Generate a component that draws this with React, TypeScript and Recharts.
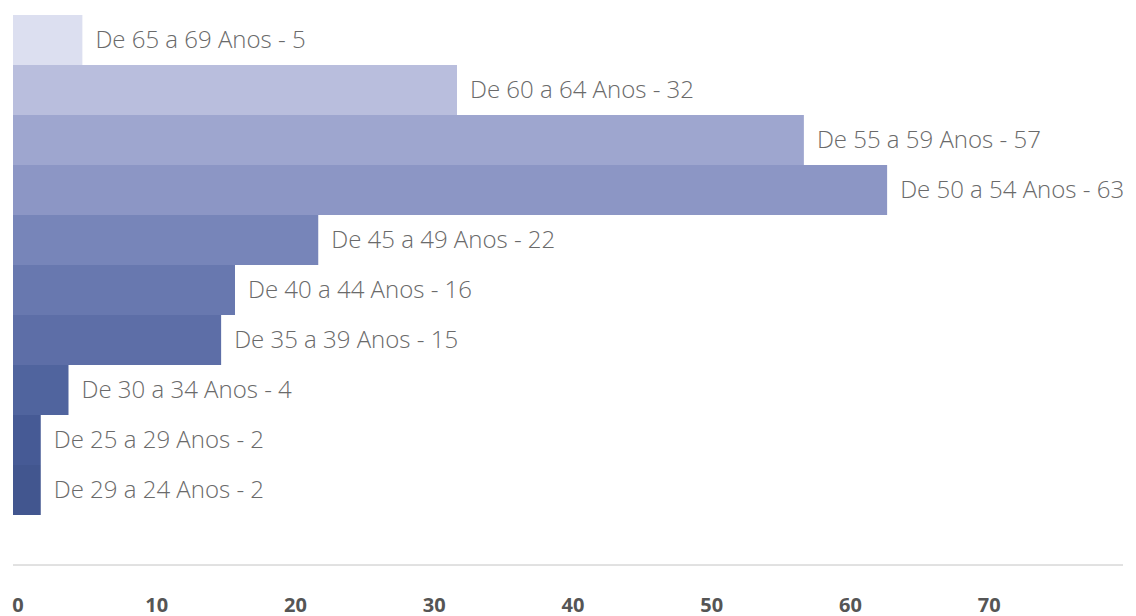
import React from 'react'
import { BarChart, Bar, XAxis, YAxis, Cell, LabelList } from 'recharts'

const faixas = [
  'De 65 a 69 Anos',
  'De 60 a 64 Anos',
  'De 55 a 59 Anos',
  'De 50 a 54 Anos',
  'De 45 a 49 Anos',
  'De 40 a 44 Anos',
  'De 35 a 39 Anos',
  'De 30 a 34 Anos',
  'De 25 a 29 Anos',
  'De 29 a 24 Anos',
]
const quantidade = [5, 32, 57, 63, 22, 16, 15, 4, 2, 2]
const xTicks = [0, 10, 20, 30, 40, 50, 60, 70]

// lighter at the top, darker towards the bottom
const cores = [
  '#dcdff0',
  '#b9bedd',
  '#9ea6cf',
  '#8c96c5',
  '#7785b9',
  '#6878af',
  '#5d6ea7',
  '#50649e',
  '#465a95',
  '#42568f',
]

const data = faixas.map((f, i) => ({ faixa: f, valor: quantidade[i] }))

function Tick(props: any) {
  const { x, payload } = props
  return (
    <text
      x={x + 5}
      y={604}
      textAnchor="middle"
      dominantBaseline="central"
      fill="#555"
      fontSize={20}
      fontWeight={700}
      fontFamily="Open Sans"
    >
      {payload.value}
    </text>
  )
}

export default function App() {
  return (
    <div style={{ position: 'absolute', left: 0, top: 0, background: '#fff' }}>
      <BarChart
        width={1136}
        height={616}
        data={data}
        layout="vertical"
        barCategoryGap={0}
        margin={{ top: 15, right: 13, left: 13, bottom: 0 }}
      >
        <XAxis
          type="number"
          domain={[0, 80]}
          ticks={xTicks}
          height={51}
          axisLine={{ stroke: '#c4c4c4', strokeWidth: 1 }}
          tickLine={false}
          tick={<Tick />}
        />
        <YAxis type="category" dataKey="faixa" hide width={0} padding={{ top: 0, bottom: 50 }} />
        <Bar dataKey="valor" isAnimationActive={false}>
          {data.map((d, i) => (
            <Cell key={d.faixa} fill={cores[i]} />
          ))}
          <LabelList
            dataKey="valor"
            content={(props: any) => {
              const { x, y, width, height, index } = props
              return (
                <text
                  x={x + width + 13}
                  y={y + height / 2 - 2}
                  dominantBaseline="central"
                  fill="#6a6a6a"
                  fontSize={24}
                  fontWeight={300}
                  fontFamily="Open Sans"
                >
                  {`${faixas[index]} - ${quantidade[index]}`}
                </text>
              )
            }}
          />
        </Bar>
      </BarChart>
    </div>
  )
}
